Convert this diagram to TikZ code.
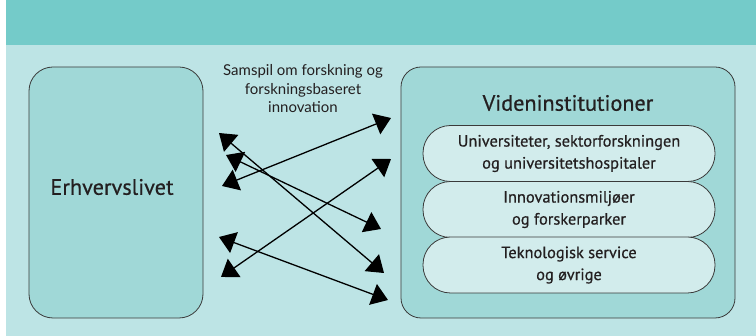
\documentclass[tikz,border=0pt]{standalone}
\usepackage{fontspec}
\setmainfont{PT Sans}[FakeBold=0.5]
\newfontfamily\capfont{Lato}
\newfontfamily\boxfont{PT Sans}[FakeBold=0.6]
\usetikzlibrary{arrows.meta}
\definecolor{band}{HTML}{74CBC9}
\definecolor{bgc}{HTML}{BDE4E5}
\definecolor{boxc}{HTML}{A0D8D7}
\definecolor{pillc}{HTML}{D2ECEC}
\definecolor{edge}{HTML}{3A3A3A}
\definecolor{ink}{HTML}{231F20}
\tikzset{
  bigbox/.style={draw=edge, line width=0.8pt, fill=boxc, rounded corners=24pt, inner sep=0pt},
  pill/.style={draw=edge, line width=0.8pt, fill=pillc, rounded corners=27.5pt, minimum width=292pt, minimum height=56pt, inner sep=0pt, align=center, text=ink, font=\boxfont\fontsize{16.4}{22}\selectfont},
  link/.style={line width=1.3pt, {Triangle[length=16pt,width=22pt]}-{Triangle[length=16pt,width=22pt]}}
}
\begin{document}
\begin{tikzpicture}[x=1pt,y=-1pt]
\useasboundingbox (0,0) rectangle (756,336);
\fill[white] (0,0) rectangle (756,336);
\fill[bgc] (6,0) rectangle (756,336);
\fill[band] (6,0) rectangle (756,45);
% left box
\node[bigbox, minimum width=174pt, minimum height=251pt] (erh) at (116,192.5) {};
\node[text=ink, font=\boxfont\fontsize{22.3}{26}\selectfont] (erhtxt) at (112,187) {Erhvervslivet};
% right box
\node[bigbox, minimum width=334pt, minimum height=251pt, rounded corners=20pt] (vid) at (568,192.5) {};
\node[text=ink, font=\boxfont\fontsize{22.2}{26}\selectfont] (vidtxt) at (568,103) {Videninstitutioner};
\node[pill] (p1) at (569,153.5) {Universiteter, sektorforskningen\\og universitetshospitaler};
\node[pill] (p2) at (569,209.5) {Innovationsmiljøer\\og forskerparker};
\node[pill] (p3) at (569,265) {Teknologisk service\\og øvrige};
% caption
\node[text=ink, font=\capfont\fontsize{15}{18.5}\selectfont, align=center] (cap) at (303,89) {Samspil om forskning og\\forskningsbaseret\\innovation};
% arrow ends
\coordinate (l1) at (219,133);
\coordinate (l2) at (226,155);
\coordinate (l3) at (222,186);
\coordinate (l4) at (219,237);
\coordinate (l5) at (221,277);
\coordinate (r1) at (391,118);
\coordinate (r2) at (391,159);
\coordinate (r3) at (381,229);
\coordinate (r4) at (384,273);
\coordinate (r5) at (388,300);
\draw[link] (l1) -- (r4);
\draw[link] (l2) -- (r3);
\draw[link] (l3) -- (r1);
\draw[link] (l4) -- (r5);
\draw[link] (l5) -- (r2);
\end{tikzpicture}
\end{document}
